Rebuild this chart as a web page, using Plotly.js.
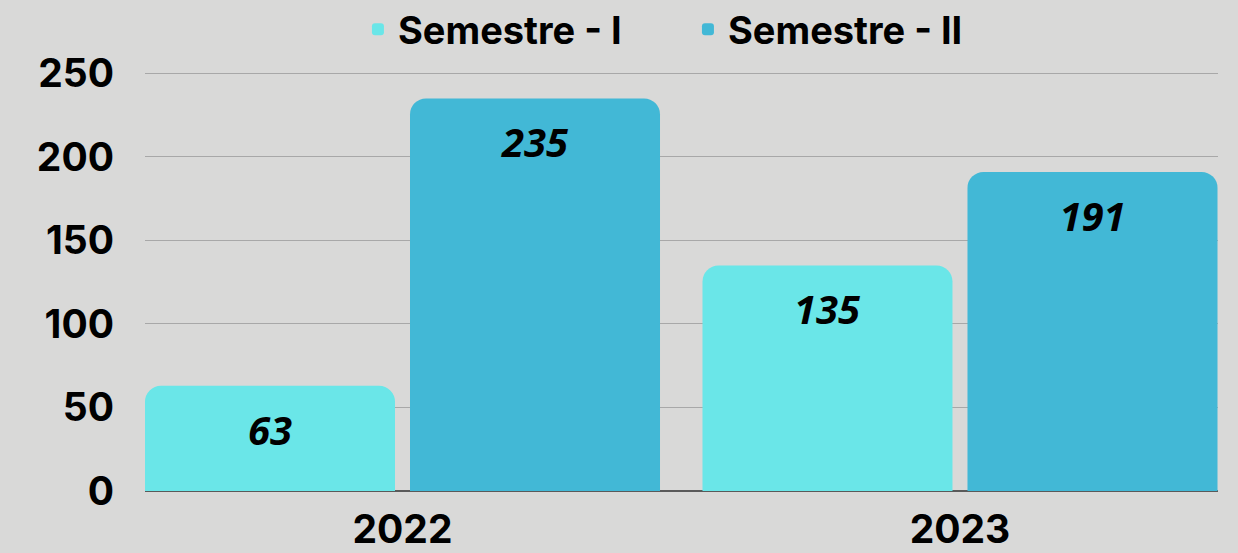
<!DOCTYPE html>
<html>
<head>
<meta charset="utf-8">
<script src="https://cdn.plot.ly/plotly-3.0.1.min.js"></script>
<style>html,body{margin:0;padding:0;background:#d9d9d8;}#chart{width:1238px;height:553px;}</style>
</head>
<body>
<div id="chart"></div>
<script>
const categories = ["2022", "2023"];
const seriesNames = ["Semestre - I", "Semestre - II"];
const semestre1 = [63, 135];
const semestre2 = [235, 191];
const yTicks = [0, 50, 100, 150, 200, 250];

const colors = ["#6ae6e8", "#42b8d6"];
const labelFont = {family: "Open Sans", size: 40, color: "#000", weight: 700, style: "italic"};

const traces = [semestre1, semestre2].map((vals, i) => ({
  type: "bar",
  name: seriesNames[i],
  x: categories,
  y: vals,
  marker: {color: colors[i], line: {width: 0}},
  texttemplate: "<br>%{y}",
  textposition: "inside",
  insidetextanchor: "end",
  textangle: 0,
  insidetextfont: labelFont,
  textfont: labelFont,
  hoverinfo: "skip"
}));

const layout = {
  width: 1238,
  height: 553,
  paper_bgcolor: "#d9d9d8",
  plot_bgcolor: "#d9d9d8",
  margin: {l: 145, r: 20, t: 70, b: 62, autoexpand: false},
  barmode: "group",
  bargap: 0.0493,
  bargroupgap: 0.0566,
  barcornerradius: 16,
  showlegend: true,
  legend: {
    orientation: "h",
    x: 0.506, xanchor: "center",
    y: 1.096, yanchor: "middle",
    font: {family: "Inter", size: 38, color: "#000", weight: 700},
    bgcolor: "rgba(0,0,0,0)",
    entrywidth: 285,
    entrywidthmode: "pixels",
    traceorder: "normal"
  },
  xaxis: {
    type: "category",
    range: [-0.4619, 1.4628],
    showgrid: false,
    zeroline: false,
    showline: false,
    ticks: "",
    ticklabelstandoff: 12,
    tickfont: {family: "Inter", size: 39, color: "#000", weight: 700},
    fixedrange: true
  },
  yaxis: {
    range: [0, 252],
    tickvals: yTicks,
    ticktext: yTicks.map(String),
    showgrid: true,
    gridcolor: "#a8a8a8",
    gridwidth: 1,
    zeroline: true,
    zerolinecolor: "#5a5a5a",
    zerolinewidth: 2,
    showline: false,
    ticks: "",
    ticklabelstandoff: 30,
    tickfont: {family: "Inter", size: 39, color: "#000", weight: 700},
    fixedrange: true
  }
};

Plotly.newPlot("chart", traces, layout, {displayModeBar: false, staticPlot: true});
</script>
</body>
</html>
